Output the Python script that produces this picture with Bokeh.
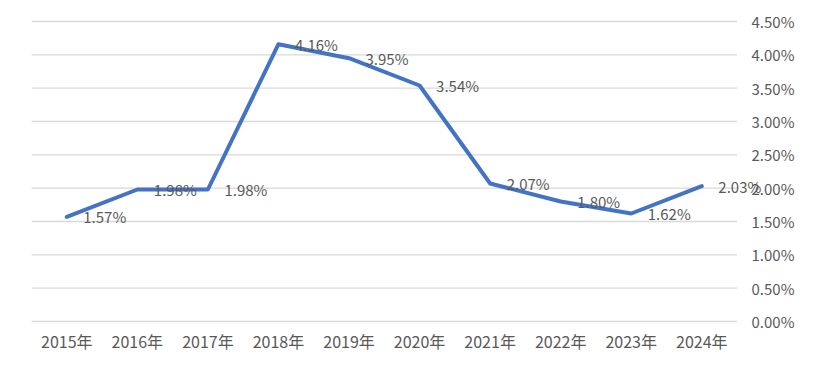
from bokeh.plotting import figure
from bokeh.models import Range1d, FixedTicker, PrintfTickFormatter, ColumnDataSource, LabelSet
from bokeh.core.properties import value
from bokeh.embed import file_html
from bokeh.resources import INLINE

years = ["2015年", "2016年", "2017年", "2018年", "2019年", "2020年", "2021年", "2022年", "2023年", "2024年"]
rates = [1.57, 1.98, 1.98, 4.16, 3.95, 3.54, 2.07, 1.80, 1.62, 2.03]
labels = ["1.57%", "1.98%", "1.98%", "4.16%", "3.95%", "3.54%", "2.07%", "1.80%", "1.62%", "2.03%"]
y_ticks = [0, 0.5, 1.0, 1.5, 2.0, 2.5, 3.0, 3.5, 4.0, 4.5]

FONT = "Noto Sans CJK SC"
TXT = "#595959"
W, H = 818, 363

idx = list(range(len(years)))
src = ColumnDataSource(dict(x=idx, y=rates, t=labels))
n = len(years)

p = figure(width=W, height=H, x_range=Range1d(-0.5, n - 0.5 + 0.757), y_range=Range1d(-0.03, 4.53),
           y_axis_location="right", output_backend="svg", toolbar_location=None,
           min_border_left=31, min_border_right=28, min_border_top=19, min_border_bottom=40)
p.outline_line_color = None
p.grid.grid_line_color = None

p.segment(x0=[-0.5] * len(y_ticks), x1=[n - 0.5] * len(y_ticks), y0=y_ticks, y1=y_ticks,
          line_color="#d9d9d9", line_width=1.3)

p.xaxis.ticker = FixedTicker(ticks=idx)
p.xaxis.major_label_overrides = {i: y for i, y in zip(idx, years)}
p.yaxis.ticker = FixedTicker(ticks=y_ticks)
p.yaxis.formatter = PrintfTickFormatter(format="%.2f%%")
for ax in (p.xaxis[0], p.yaxis[0]):
    ax.axis_line_color = None
    ax.major_tick_line_color = None
    ax.minor_tick_line_color = None
    ax.major_label_text_font = FONT
    ax.major_label_text_color = TXT
p.xaxis.major_label_text_font_size = "16px"
p.yaxis.major_label_text_font_size = "15px"
p.yaxis.major_label_standoff = -45
p.xaxis.major_label_standoff = -1

p.line("x", "y", source=src, line_color="#4472C4", line_width=4, line_join="round", line_cap="round")
p.add_layout(LabelSet(x="x", y="y", text="t", source=src, x_offset=38, text_align="center",
                      text_baseline="middle", text_font=value(FONT), text_font_size="15px", text_color=TXT))

open("out.html", "w").write(file_html(p, INLINE))
